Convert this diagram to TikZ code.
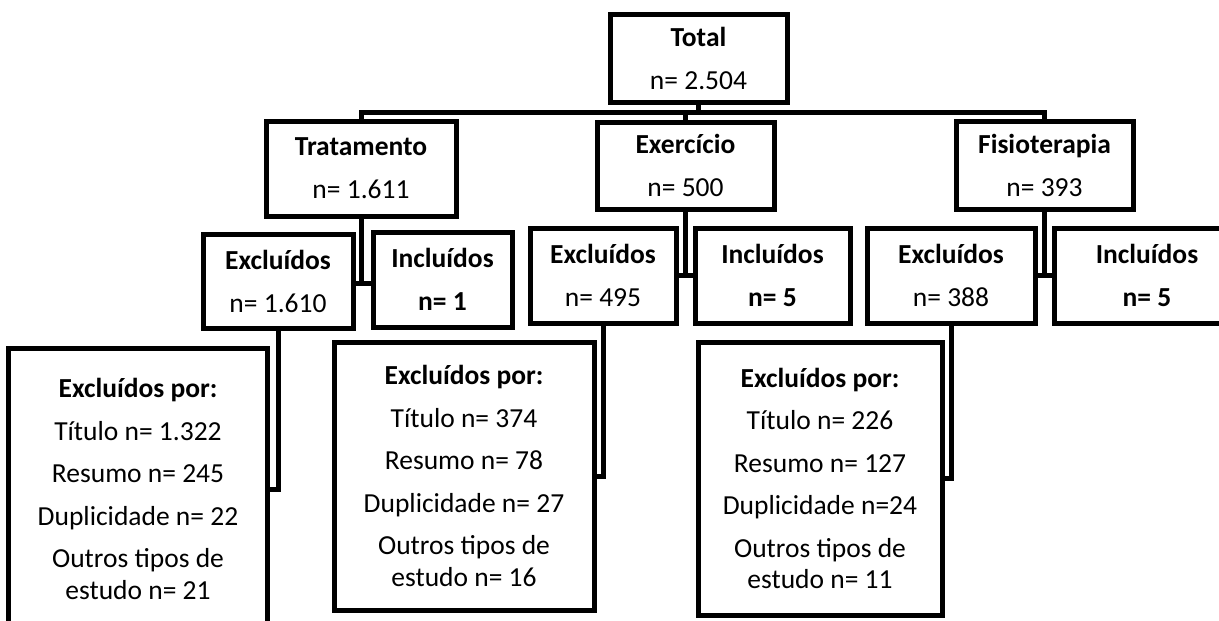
\documentclass[tikz,border=0pt]{standalone}
\usepackage{fontspec}
\setmainfont{Carlito}
\begin{document}
\begin{tikzpicture}[x=1pt,y=-1pt,
  box/.style={draw, line width=5pt, inner sep=0pt, align=center, font=\fontsize{27.5}{33}\selectfont},
  bigbox/.style={box, font=\fontsize{27.5}{31.5}\selectfont},
  sz/.style 2 args={minimum width=#1pt, minimum height=#2pt},
  conn/.style={line width=5pt}]
\useasboundingbox (0,0) rectangle (1219,621);
\clip (0,0) rectangle (1219,621);
% top level
\node[box, sz={177}{88}] (tot) at (698.5,58) {\textbf{Total}\\[10pt]n= 2.504};
\node[box, sz={190}{95}] (trat) at (361,168.5) {\textbf{Tratamento}\\[10pt]n= 1.611};
\node[box, sz={177}{87}] (exer) at (685.5,165.5) {\textbf{Exercício}\\[10pt]n= 500};
\node[box, sz={177}{88}] (fis) at (1044.5,165) {\textbf{Fisioterapia}\\[10pt]n= 393};
% second level
\node[box, sz={150}{94}] (exclT) at (278,281) {\textbf{Excluídos}\\[10pt]n= 1.610};
\node[box, sz={139}{95}] (inclT) at (442.5,279.5) {\textbf{Incluídos}\\[10pt]\textbf{n= 1}};
\node[box, sz={146}{95}] (exclE) at (603,275.5) {\textbf{Excluídos}\\[10pt]n= 495};
\node[box, sz={155}{95}] (inclE) at (772.5,275.5) {\textbf{Incluídos}\\[10pt]\textbf{n= 5}};
\node[box, sz={168}{95}] (exclF) at (951,275.5) {\textbf{Excluídos}\\[10pt]n= 388};
\node[box, sz={186}{95}] (inclF) at (1147,275.5) {\textbf{Incluídos}\\[10pt]\textbf{n= 5}};
% exclusion detail boxes
\node[bigbox, sz={259}{282}] (box1) at (138,489) {\textbf{Excluídos por:}\\[11pt]Título n= 1.322\\[11pt]Resumo n= 245\\[11pt]Duplicidade n= 22\\[11pt]Outros tipos de\\estudo n= 21};
\node[bigbox, sz={260}{268}] (box2) at (464,476) {\textbf{Excluídos por:}\\[11pt]Título n= 374\\[11pt]Resumo n= 78\\[11pt]Duplicidade n= 27\\[11pt]Outros tipos de\\estudo n= 16};
\node[bigbox, sz={244}{273}] (box3) at (820,478.5) {\textbf{Excluídos por:}\\[11pt]Título n= 226\\[11pt]Resumo n= 127\\[11pt]Duplicidade n=24\\[11pt]Outros tipos de\\estudo n= 11};
% connector coordinates
\coordinate (bar) at (0,112);
\coordinate (jT) at (0,283);
\coordinate (jE) at (0,275);
\coordinate (jF) at (0,275);
% connectors
\draw[conn] (tot.south) -- (tot.south |- bar);
\draw[conn] (trat.north) |- (fis.north |- bar) -- (fis.north);
\draw[conn] (exer.north) -- (exer.north |- bar);
\draw[conn] (trat.south) -- (trat.south |- jT) (exclT.east |- jT) -- (inclT.west |- jT);
\draw[conn] (exer.south) -- (exer.south |- jE) (exclE.east |- jE) -- (inclE.west |- jE);
\draw[conn] (fis.south) -- (fis.south |- jF) (exclF.east |- jF) -- (inclF.west |- jF);
\draw[conn] (exclT.south) |- (box1.east);
\draw[conn] (exclE.south) |- (box2.east);
\draw[conn] (exclF.south) |- (box3.east);
\end{tikzpicture}
\end{document}
